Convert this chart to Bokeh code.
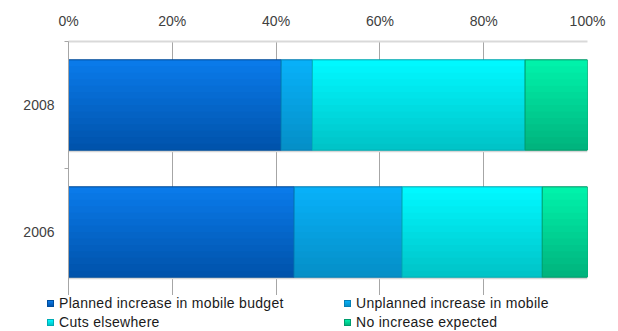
import numpy as np
from bokeh.plotting import figure
from bokeh.layouts import column
from bokeh.models import Range1d, FixedTicker, PrintfTickFormatter, Div
from bokeh.embed import file_html
from bokeh.resources import INLINE

# ---- data ----
years = ["2006", "2008"]  # bottom to top
series_names = [
    "Planned increase in mobile budget",
    "Unplanned increase in mobile",
    "Cuts elsewhere",
    "No increase expected",
]
planned = [43.5, 41.0]
unplanned = [20.8, 6.0]
cuts = [27.0, 41.0]
no_increase = [8.7, 12.0]
x_ticks = [0, 20, 40, 60, 80, 100]

# ---- styles ----
top_colors = ["#0a7ae9", "#08b0f8", "#00f8ff", "#00f2aa"]
bottom_colors = ["#0053ac", "#0590c8", "#00c4c8", "#00b47e"]
mid_colors = ["#0067cc", "#07a0e2", "#00e0e6", "#00d496"]
edge_colors = ["#004d9c", "#0580b5", "#00acb4", "#009c6c"]
FONT = "Liberation Sans"
GRID = "#a6a6a6"


def interp(c1, c2, t):
    a = [int(c1[i:i + 2], 16) for i in (1, 3, 5)]
    b = [int(c2[i:i + 2], 16) for i in (1, 3, 5)]
    return "#" + "".join(f"{round(x + (y - x) * t):02x}" for x, y in zip(a, b))


p = figure(
    width=618, height=295, output_backend="svg", toolbar_location=None,
    x_range=Range1d(0, 100), y_range=Range1d(0, len(years)),
    x_axis_location="above",
    min_border_left=68, min_border_right=31, min_border_top=41, min_border_bottom=0,
)
p.outline_line_color = None
p.background_fill_color = "white"

# x axis (top)
p.xaxis.ticker = FixedTicker(ticks=x_ticks)
p.xaxis.formatter = PrintfTickFormatter(format="%d%%")
p.xaxis.major_tick_out = 0
p.xaxis.major_tick_in = 0
p.xaxis.minor_tick_out = 0
p.xaxis.minor_tick_in = 0
p.xaxis.axis_line_color = "#d9d9d9"
p.xaxis.axis_line_width = 2
p.xaxis.major_label_standoff = 13
p.xaxis.major_label_text_font = FONT
p.xaxis.major_label_text_font_size = "14px"
p.xaxis.major_label_text_color = "#404040"

# y axis (categories)
y_pos = np.arange(len(years)) + 0.5
p.yaxis.ticker = FixedTicker(ticks=list(y_pos), minor_ticks=list(np.arange(len(years) + 1)))
p.yaxis.major_label_overrides = {float(y): yr for y, yr in zip(y_pos, years)}
p.yaxis.major_tick_out = 0
p.yaxis.major_tick_in = 0
p.yaxis.minor_tick_out = 4
p.yaxis.minor_tick_in = 0
p.yaxis.minor_tick_line_color = GRID
p.yaxis.axis_line_color = GRID
p.yaxis.major_label_standoff = 10
p.yaxis.major_label_text_font = FONT
p.yaxis.major_label_text_font_size = "14px"
p.yaxis.major_label_text_color = "#404040"

p.xgrid.ticker = FixedTicker(ticks=x_ticks)
p.xgrid.grid_line_color = GRID
p.ygrid.visible = False

# ---- bars ----
h = 0.71
N = 14
series = [planned, unplanned, cuts, no_increase]
totals = np.sum(np.array(series), axis=0)

# soft shadow under each bar
p.hbar(y=y_pos - 0.018, left=0, right=totals, height=h,
       fill_color="#d6d6d6", line_color=None)

left = np.zeros(len(years))
for s, vals in enumerate(series):
    vals = np.array(vals, dtype=float)
    right = left + vals
    p.hbar(y=y_pos, left=left, right=right, height=h,
           fill_color=mid_colors[s], line_color=edge_colors[s], line_width=1)
    for i in range(N):
        t = i / (N - 1)
        hh = h * (N - i) / N
        yc = y_pos - h / 2 + hh / 2
        p.hbar(y=yc, left=left, right=right, height=hh,
               fill_color=interp(top_colors[s], bottom_colors[s], t), line_color=None)
    p.hbar(y=y_pos, left=left, right=right, height=h,
           fill_color=None, line_color=edge_colors[s], line_width=1, line_alpha=0.8)
    left = right

# ---- legend (two columns, two rows) as real HTML text below the chart ----
col_left = [47, 344]
row_top = [0, 19]
items_html = []
for k, name in enumerate(series_names):
    col, row = k % 2, k // 2
    items_html.append(
        f'<div style="position:absolute;left:{col_left[col]}px;top:{row_top[row]}px;'
        f'height:16px;line-height:16px;white-space:nowrap;">'
        f'<span style="display:inline-block;box-sizing:border-box;width:7px;height:7px;'
        f'margin-right:5px;vertical-align:1px;border:1px solid {edge_colors[k]};'
        f'background:linear-gradient({top_colors[k]},{bottom_colors[k]});"></span>'
        f'{name}</div>'
    )
legend_html = (
    f'<div style="position:relative;width:618px;height:36px;font-family:\'{FONT}\';'
    f'font-size:14px;letter-spacing:0.3px;color:#1a1a1a;">' + "".join(items_html) + "</div>"
)
legend_div = Div(text=legend_html, width=618, height=36, margin=0)

open("out.html", "w").write(file_html(column(p, legend_div), INLINE))
